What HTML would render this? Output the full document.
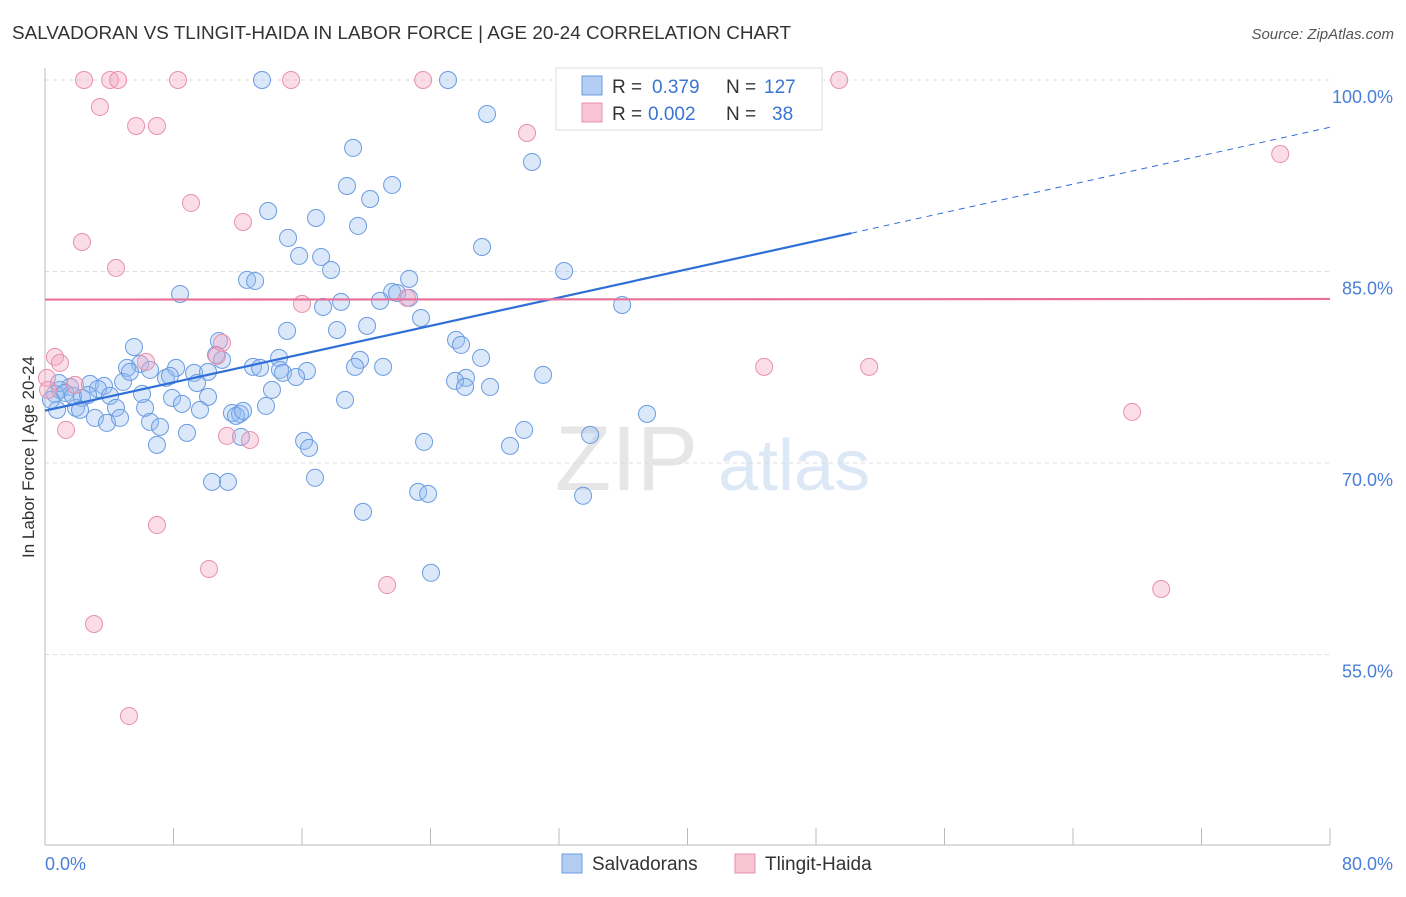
<!DOCTYPE html>
<html><head><meta charset="utf-8"><style>
body{margin:0;background:#fff;font-family:"Liberation Sans",sans-serif}
svg text{font-family:"Liberation Sans",sans-serif}
</style></head><body>
<svg id="chart" width="1406" height="892" xmlns="http://www.w3.org/2000/svg">
<text x="12" y="39" font-size="18" fill="#333" textLength="779" lengthAdjust="spacingAndGlyphs">SALVADORAN VS TLINGIT-HAIDA IN LABOR FORCE | AGE 20-24 CORRELATION CHART</text>
<text x="1394" y="39" font-size="15" fill="#555" font-style="italic" text-anchor="end">Source: ZipAtlas.com</text>
<text x="555" y="490" font-size="92" fill="#e6e6e6" font-family="Liberation Serif">ZIP</text>
<text x="718" y="490" font-size="72" fill="#dce8f6">atlas</text>
<g id="grid"></g>
<g id="axes"></g>
<g id="points"></g>
<g id="trends"></g>
<text transform="translate(34,457) rotate(-90)" font-size="17" fill="#333" text-anchor="middle">In Labor Force | Age 20-24</text>
<g>
<rect x="556" y="68" width="266" height="62" fill="#fff" stroke="#ddd"/>
<rect x="582" y="76" width="20" height="19" fill="#b3cdf3" stroke="#6a9be0"/>
<rect x="582" y="103" width="20" height="19" fill="#f8c4d4" stroke="#e890ad"/>
<text x="612" y="93" font-size="19" fill="#333">R =</text>
<text x="652" y="93" font-size="19" fill="#3a75d0">0.379</text>
<text x="726" y="93" font-size="19" fill="#333">N =</text>
<text x="764" y="93" font-size="19" fill="#3a75d0">127</text>
<text x="612" y="120" font-size="19" fill="#333">R =</text>
<text x="648" y="120" font-size="19" fill="#3a75d0">0.002</text>
<text x="726" y="120" font-size="19" fill="#333">N =</text>
<text x="772" y="120" font-size="19" fill="#3a75d0">38</text>
</g>
<g>
<rect x="562" y="854" width="20" height="19" fill="#b3cdf3" stroke="#6a9be0"/>
<text x="592" y="870" font-size="19" fill="#333">Salvadorans</text>
<rect x="735" y="854" width="20" height="19" fill="#f8c4d4" stroke="#e890ad"/>
<text x="765" y="870" font-size="19" fill="#333">Tlingit-Haida</text>
</g>
</svg>
<script>
const yTicks=[100,85,70,55];
const xTickLabels=["0.0%","80.0%"];
const blueX=[13.51,25.09,27.52,19.18,30.32,18.80,21.61,20.24,13.89,16.87,19.49,15.13,27.21,15.82,17.19,17.81,32.32,12.58,13.08,22.67,8.41,21.61,21.92,20.86,22.67,17.31,18.43,35.93,23.41,15.07,20.05,18.18,25.59,25.90,10.83,5.54,10.65,11.02,14.57,27.15,19.61,19.30,21.05,5.92,5.11,6.54,8.16,9.28,10.15,12.95,13.39,14.63,16.31,14.82,15.63,26.21,25.53,26.15,27.71,31.01,7.53,7.78,4.86,2.80,1.56,3.67,3.30,0.93,0.62,2.30,4.05,7.91,10.15,8.53,14.13,18.68,6.23,4.42,1.93,9.65,13.76,11.64,12.14,11.89,3.11,3.86,4.67,6.54,7.16,12.33,37.48,16.13,16.44,23.60,28.95,29.83,33.94,6.97,8.84,12.20,16.81,10.40,11.39,23.23,23.85,33.50,19.80,24.03,0.87,1.25,0.75,0.37,2.18,5.29,6.04,9.46,1.74,2.68,37.98,42.96];
const blueY=[100,100,97.34,94.68,93.58,91.70,91.78,90.68,89.74,89.19,88.57,87.63,86.92,86.22,86.14,85.12,85.04,84.34,84.26,84.42,83.24,83.40,83.32,82.70,82.93,82.23,82.62,82.38,81.36,80.35,80.74,80.42,79.64,79.25,79.56,79.09,78.47,78.08,78.23,78.23,78.08,77.53,77.53,77.76,77.45,77.29,77.45,77.06,77.14,77.53,77.45,77.29,77.21,77.06,76.74,76.67,76.43,75.96,75.96,76.90,76.67,76.82,76.35,76.20,75.96,76.04,75.80,75.73,75.41,75.10,75.26,75.10,75.18,74.63,75.73,74.94,74.32,74.32,74.32,74.16,74.47,73.92,73.85,73.69,73.53,73.14,73.53,73.22,72.83,74.08,73.85,71.73,71.18,71.65,71.34,72.59,72.20,71.42,72.36,72.05,68.84,68.52,68.52,67.74,67.58,67.43,66.17,61.40,76.27,75.49,74.16,74.94,74.16,77.14,75.41,76.27,75.26,75.33,96.87,100];
const pinkX=[2.43,4.05,4.55,8.28,15.32,23.54,49.44,3.42,5.67,6.97,30.01,9.09,12.33,2.30,4.42,76.90,16.00,22.54,0.62,0.93,6.29,11.02,10.71,44.77,51.31,1.87,0.12,67.68,1.31,11.33,12.76,6.97,10.21,21.30,69.49,3.05,5.23,0.19];
const pinkY=[100,100,100,100,100,100,100,97.89,96.40,96.40,95.85,90.37,88.88,87.31,85.28,94.20,82.46,82.93,78.31,77.84,77.92,79.41,78.39,77.53,77.53,76.12,76.67,74.00,72.59,72.12,71.80,65.14,61.70,60.44,60.13,57.39,50.18,75.73];
const blueTrend=[74.1,88.0,96.3];
const blueTrendX=[0,50.2,80];
const pinkTrend=[82.8,82.85];
const NS="http://www.w3.org/2000/svg";
const X=v=>45+v/80*1285;
const Y=v=>80+(100-v)/15*191.5;
function mk(tag,attrs,parent){const e=document.createElementNS(NS,tag);for(const k in attrs)e.setAttribute(k,attrs[k]);document.getElementById(parent).appendChild(e);return e;}
yTicks.forEach(t=>{
  const l=mk('line',{x1:45,x2:1330,y1:Y(t),y2:Y(t),stroke:'#ddd','stroke-dasharray':'4,4'},'grid');
  
  
  const tx=mk('text',{x:1393,y:Y(t)+23,'font-size':18,fill:'#4a7fd8','text-anchor':'end'},'grid');
  tx.textContent=t.toFixed(1)+'%';
  
  
});
const ax=mk('line',{x1:45,x2:1330,y1:845,y2:845,stroke:'#bbb'},'axes');


const ay=mk('line',{x1:45,x2:45,y1:68,y2:845,stroke:'#bbb'},'axes');


for(let i=0;i<=10;i++){
  const t=mk('line',{x1:X(i*8),x2:X(i*8),y1:828,y2:845,stroke:'#bbb'},'axes');
  
  
}
[[0,'start',45],[80,'end',1393]].forEach((d,i)=>{
  const t=mk('text',{x:d[2],y:870,'font-size':18,fill:'#4a7fd8','text-anchor':d[1]},'axes');
  t.textContent=xTickLabels[i];
  
  
});
blueX.forEach((v,i)=>{
  const c=mk('circle',{cx:X(v),cy:Y(blueY[i]),r:8.5,fill:'rgba(150,188,240,0.35)',stroke:'#6a9be0','stroke-width':1},'points');
  
  
});
pinkX.forEach((v,i)=>{
  const c=mk('circle',{cx:X(v),cy:Y(pinkY[i]),r:8.5,fill:'rgba(246,170,195,0.4)',stroke:'#e890ad','stroke-width':1},'points');
  
  
});
const bs=mk('line',{x1:X(blueTrendX[0]),y1:Y(blueTrend[0]),x2:X(blueTrendX[1]),y2:Y(blueTrend[1]),stroke:'#2f6fd6','stroke-width':2.2},'trends');


const bd=mk('line',{x1:X(blueTrendX[1]),y1:Y(blueTrend[1]),x2:X(blueTrendX[2]),y2:Y(blueTrend[2]),stroke:'#2f6fd6','stroke-width':1,'stroke-dasharray':'6,5'},'trends');


const pl=mk('line',{x1:X(0),y1:Y(pinkTrend[0]),x2:X(80),y2:Y(pinkTrend[1]),stroke:'#e8709a','stroke-width':2.2},'trends');


</script>
</body></html>
